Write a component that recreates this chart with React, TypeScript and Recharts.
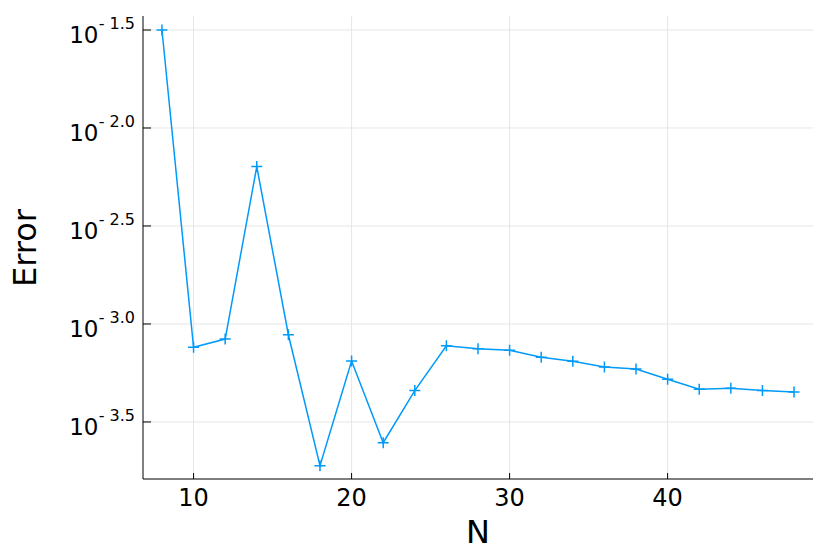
import { LineChart, Line, XAxis, YAxis, ReferenceLine } from 'recharts';

// N values and log10(Error)
const nValues = [8, 10, 12, 14, 16, 18, 20, 22, 24, 26, 28, 30, 32, 34, 36, 38, 40, 42, 44, 46, 48];
const logError = [
  -1.5, -3.119, -3.077, -2.197, -3.055, -3.723, -3.189, -3.606, -3.34, -3.111, -3.126,
  -3.134, -3.17, -3.19, -3.219, -3.23, -3.282, -3.333, -3.328, -3.34, -3.347,
];
const xTicks = [10, 20, 30, 40];
const yTickExps = [-3.5, -3.0, -2.5, -2.0, -1.5];

const data = nValues.map((n, i) => ({ n, error: Math.pow(10, logError[i]) }));
const yTicks = yTickExps.map((e) => Math.pow(10, e));

const FONT = '"DejaVu Sans", sans-serif';
const BLUE = '#009AFA';
const GRID = '#e6e6e6';

const YTick = (props: any) => {
  const { x, y, payload } = props;
  const e = Math.log10(payload.value);
  const exp = '- ' + Math.abs(e).toFixed(1);
  return (
    <g>
      <line x1={x} y1={y} x2={x + 8} y2={y} stroke="#000" strokeWidth={1} />
      <text x={x - 8} y={y - 0.5} textAnchor="end" fontSize={16} fontFamily={FONT} fill="#000">
        {exp}
      </text>
      <text x={x - 44.5} y={y + 13.3} textAnchor="end" fontSize={23} fontFamily={FONT} fill="#000">
        10
      </text>
    </g>
  );
};

const XTick = (props: any) => {
  const { x, y, payload } = props;
  return (
    <g>
      <line x1={x} y1={y} x2={x} y2={y - 6} stroke="#000" strokeWidth={1} />
      <text x={x} y={y + 27} textAnchor="middle" fontSize={24} fontFamily={FONT} fill="#000">
        {payload.value}
      </text>
    </g>
  );
};

const Cross = (props: any) => {
  const { cx, cy } = props;
  if (cx == null || cy == null) return null;
  const s = 5.5;
  return (
    <path
      d={`M${cx - s},${cy}H${cx + s}M${cx},${cy - s}V${cy + s}`}
      stroke={BLUE}
      strokeWidth={1.5}
      fill="none"
    />
  );
};

export default function App() {
  return (
    <div style={{ position: 'absolute', left: 0, top: 0, background: '#fff' }}>
      <LineChart width={830} height={554} data={data} margin={{ top: 16, right: 17, left: 0, bottom: 0 }}>
        {xTicks.map((t) => (
          <ReferenceLine key={'x' + t} x={t} stroke={GRID} strokeWidth={1} />
        ))}
        {yTicks.map((t, i) => (
          <ReferenceLine key={'y' + i} y={t} stroke={GRID} strokeWidth={1} />
        ))}
        <XAxis
          dataKey="n"
          type="number"
          domain={[6.8, 49.2]}
          ticks={xTicks}
          allowDataOverflow
          height={75}
          tickSize={0}
          tickMargin={0}
          tickLine={false}
          axisLine={{ stroke: '#000', strokeWidth: 1 }}
          tick={<XTick />}
          label={{
            content: () => (
              <text x={478} y={543} textAnchor="middle" fontSize={32} fontFamily={FONT} fill="#000">
                N
              </text>
            ),
          }}
        />
        <YAxis
          type="number"
          scale="log"
          domain={[Math.pow(10, -3.791), Math.pow(10, -1.4286)]}
          ticks={yTicks}
          allowDataOverflow
          width={143}
          tickSize={0}
          tickMargin={0}
          tickLine={false}
          axisLine={{ stroke: '#000', strokeWidth: 1 }}
          tick={<YTick />}
          label={{
            content: () => (
              <text
                x={36}
                y={248}
                transform="rotate(-90, 36, 248)"
                textAnchor="middle"
                fontSize={32}
                fontFamily={FONT}
                fill="#000"
              >
                Error
              </text>
            ),
          }}
        />
        <Line
          dataKey="error"
          stroke={BLUE}
          strokeWidth={1.5}
          dot={<Cross />}
          activeDot={false}
          isAnimationActive={false}
        />
      </LineChart>
    </div>
  );
}
